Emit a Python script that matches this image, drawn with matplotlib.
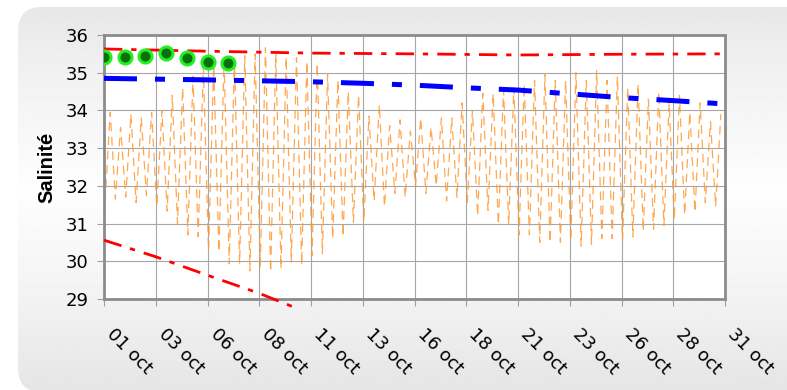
import numpy as np
import matplotlib
matplotlib.use("Agg")
import matplotlib.pyplot as plt
import matplotlib.transforms as mtransforms
from matplotlib.patches import FancyBboxPatch

plt.rcParams['font.family'] = ['DejaVu Sans']

# x axis in days since 01 oct
tick_days = [0, 2.5, 5, 7.5, 10, 12.5, 15, 17.5, 20, 22.5, 25, 27.5, 30]
tick_labels = ["01 oct", "03 oct", "06 oct", "08 oct", "11 oct", "13 oct", "16 oct",
               "18 oct", "21 oct", "23 oct", "26 oct", "28 oct", "31 oct"]

# tidal salinity: successive low and high waters (about two per day)
low_days = np.arange(60) * 0.5 + 0.05
low_vals = [31.56, 31.65, 31.70, 31.56, 31.75, 31.45, 31.33, 31.00, 30.70, 30.65,
            30.28, 30.25, 29.93, 29.93, 29.75, 29.85, 29.72, 29.80, 29.97, 29.90,
            30.15, 30.20, 30.60, 30.65, 31.03, 31.05, 31.60, 31.45, 31.80, 31.70,
            32.00, 31.80, 32.00, 31.60, 31.70, 31.56, 31.20, 31.35, 30.97, 30.97,
            30.70, 30.70, 30.50, 30.50, 30.50, 30.55, 30.40, 30.45, 30.60, 30.60,
            30.55, 30.65, 30.80, 30.85, 30.95, 31.10, 31.23, 31.30, 31.55, 31.45]
high_days = np.arange(60) * 0.5 + 0.3
high_vals = [33.95, 33.55, 33.90, 33.80, 33.95, 34.00, 34.40, 34.60, 34.90, 35.15,
             35.20, 35.30, 35.35, 35.45, 35.50, 35.66, 35.50, 35.42, 35.40, 35.30,
             35.25, 34.95, 34.80, 34.50, 34.40, 33.85, 34.15, 33.60, 33.75, 33.45,
             33.80, 33.55, 33.80, 33.80, 34.20, 34.00, 34.45, 34.45, 34.55, 34.60,
             34.70, 34.80, 34.95, 34.80, 34.80, 35.00, 34.80, 35.05, 34.80, 34.90,
             34.60, 34.70, 34.30, 34.50, 34.20, 34.40, 33.95, 34.20, 33.70, 33.90]

# trend lines
blue_days = [0, 5, 10, 12.5, 15, 17.5, 20, 22.5, 25, 27.5, 30]
blue_vals = [34.85, 34.81, 34.76, 34.72, 34.67, 34.60, 34.54, 34.44, 34.34, 34.26, 34.17]
red_top_days = [0, 5, 10, 15, 20, 25, 30]
red_top_vals = [35.63, 35.57, 35.52, 35.50, 35.47, 35.49, 35.50]
red_low_days = [0, 2.5, 5, 7.5, 9.1]
red_low_vals = [30.56, 30.12, 29.63, 29.15, 28.80]

# measured points
obs_days = [0, 1, 2, 3, 4, 5, 6]
obs_vals = [35.42, 35.42, 35.44, 35.53, 35.38, 35.29, 35.27]

fig = plt.figure(figsize=(7.87, 3.9), dpi=100)

# rounded grey background panel
bg = fig.add_axes([0, 0, 1, 1], zorder=-1)
bg.set_xlim(0, 787)
bg.set_ylim(390, 0)
bg.axis('off')
yy = np.linspace(0, 390, 200)
shade = np.interp(yy, [0, 60, 190, 280, 390], [0.90, 0.94, 0.995, 0.96, 0.90])
grad = np.repeat(shade[:, None], 2, axis=1)
img = bg.imshow(grad, cmap='gray', vmin=0, vmax=1, extent=[0, 787, 390, 0],
                aspect='auto', interpolation='bilinear')
panel = FancyBboxPatch((18, 7), 800, 385, boxstyle='round,pad=0,rounding_size=24',
                       transform=bg.transData, facecolor='none', edgecolor='none')
bg.add_patch(panel)
img.set_clip_path(panel)

ax = fig.add_axes([104 / 787, 1 - 299 / 390, 621 / 787, 264 / 390])
ax.set_facecolor('white')

t = np.empty(120)
s = np.empty(120)
t[0::2], t[1::2] = low_days, high_days
s[0::2], s[1::2] = low_vals, high_vals
ax.plot(t, s, color='#FF9933', lw=0.9, ls=(0, (7, 4.5)), alpha=0.85, zorder=2)

ax.plot(blue_days, blue_vals, color='#0000FF', lw=3.6, ls=(0, (6.6, 3.6, 2.0, 3.6)), zorder=3)
ax.plot(red_top_days, red_top_vals, color='#FF0000', lw=2.0, ls=(0, (6.6, 3.2, 1.9, 3.3)), zorder=4)
ax.plot(red_low_days, red_low_vals, color='#FF0000', lw=2.0, ls=(0, (6.6, 3.2, 1.9, 3.3)),
        zorder=4, clip_on=False)
ax.plot(obs_days, obs_vals, 'o', ms=9.4, mfc='#0A700A', mec='#22EE22', mew=2.2, zorder=5)

ax.set_xlim(0, 30)
ax.set_ylim(29, 36)
ax.set_yticks(range(29, 37))
ax.set_xticks(tick_days)
ax.set_xticklabels(tick_labels, rotation=-45, ha='left', va='top', rotation_mode='anchor')
ax.grid(True, color='#A6A6A6', lw=0.8)
ax.set_axisbelow(True)
for sp in ax.spines.values():
    sp.set_color('#8C8C8C')
    sp.set_linewidth(2.0)
ax.tick_params(axis='both', direction='out', length=5, width=0.8, color='#A0A0A0',
               labelsize=13)
ax.tick_params(axis='y', pad=6)
ax.tick_params(axis='x', pad=14)
offset = mtransforms.ScaledTranslation(0.12, 0, fig.dpi_scale_trans)
for lab in ax.get_xticklabels():
    lab.set_transform(lab.get_transform() + offset)

ax.set_ylabel('Salinité', fontsize=14.5, fontweight='bold', family='Liberation Sans')
ax.yaxis.set_label_coords(-0.077, 0.5)

fig.savefig('out.png', dpi=100)
